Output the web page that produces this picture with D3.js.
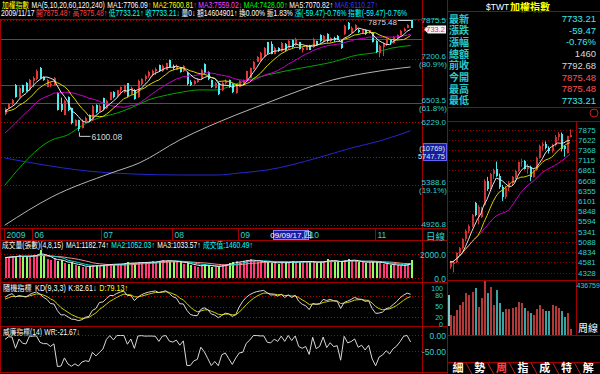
<!DOCTYPE html>
<html>
<head>
<meta charset="utf-8">
<script src="https://cdn.jsdelivr.net/npm/d3@7"></script>
<style>
  html, body { margin: 0; padding: 0; background: #000; }
  svg { display: block; }
  text { font-family: "Liberation Sans", "Noto Sans CJK TC", sans-serif; }
</style>
</head>
<body>
<script>
// ---------- daily data (May 18 2009 -> Nov 17 2009) ----------
const dayOpen = [6345,6430,6490,6780,6600,6780,6820,6700,6840,6880,7060,6910,6760,6800,6790,6660,6500,6340,6600,6430,6180,6260,6150,6250,6330,6260,6480,6390,6580,6430,6560,6680,6610,6700,6670,6810,6650,6710,6600,6800,6880,6920,6950,7000,7100,7000,7030,7180,7080,7030,7060,7000,6980,6830,6800,6830,6880,7120,6990,6860,6740,6820,6700,6810,6860,6800,6660,6760,6820,6870,6900,7040,7160,7180,7250,7480,7450,7290,7390,7330,7460,7380,7520,7430,7480,7360,7360,7430,7400,7500,7610,7500,7630,7510,7560,7600,7520,7620,7830,7650,7720,7700,7650,7700,7640,7650,7500,7300,7400,7430,7520,7470,7560,7610,7680,7740,7875.48];
const dayHigh = [6440,6510,6570,6800,6760,6790,6830,6880,6920,7030,7070,6920,6880,6830,6910,6670,6590,6560,6610,6440,6270,6265,6270,6310,6340,6480,6490,6490,6590,6560,6680,6690,6710,6760,6790,6815,6760,6720,6870,6890,6950,7010,7030,7060,7110,7110,7140,7190,7110,7110,7070,7100,6990,6860,6860,6890,7040,7130,7000,6870,6830,6830,6830,6870,6870,6810,6780,6860,6870,7010,7060,7170,7250,7320,7400,7490,7500,7410,7400,7490,7470,7520,7530,7560,7490,7400,7440,7440,7560,7510,7620,7610,7640,7570,7580,7610,7530,7790,7840,7760,7800,7720,7700,7710,7700,7660,7520,7440,7480,7550,7530,7590,7620,7700,7740,7800,7875.48];
const dayLow = [6330,6420,6480,6590,6590,6660,6680,6690,6750,6860,6880,6850,6750,6750,6780,6400,6380,6330,6390,6200,6170,6100.08,6140,6220,6230,6250,6360,6380,6400,6420,6550,6580,6600,6640,6660,6600,6640,6560,6590,6780,6840,6900,6920,6940,6990,6990,7020,7060,7020,7020,6980,6990,6780,6770,6790,6820,6870,6950,6860,6740,6730,6630,6690,6790,6740,6660,6650,6750,6800,6840,6890,7030,7150,7170,7230,7280,7280,7280,7320,7320,7330,7370,7390,7420,7360,7310,7350,7350,7390,7420,7480,7480,7480,7480,7490,7520,7370,7610,7700,7640,7700,7640,7640,7610,7630,7480,7300,7230,7250,7420,7440,7460,7540,7600,7670,7730,7733.21];
const dayClose = [6425,6500,6555,6605,6740,6680,6690,6860,6900,7010,6900,6870,6870,6805,6890,6410,6400,6540,6400,6220,6260,6130,6250,6290,6240,6470,6380,6470,6420,6540,6670,6600,6700,6750,6780,6620,6740,6570,6850,6880,6930,6990,7010,7040,7000,7090,7130,7070,7050,7090,6990,7080,6800,6790,6850,6870,7030,6970,6880,6760,6810,6650,6820,6850,6760,6670,6770,6850,6860,7000,7050,7160,7240,7300,7380,7300,7290,7390,7330,7470,7350,7510,7410,7540,7370,7390,7420,7360,7540,7440,7500,7600,7510,7560,7520,7530,7380,7770,7710,7740,7780,7660,7690,7620,7690,7490,7320,7420,7460,7540,7480,7577.65,7602.35,7682.10,7720.11,7792.68,7733.21];
const dayVolume = [1700,1750,1800,1850,1900,1750,1800,1850,1900,1950,2300,1800,1600,1500,1650,1400,1500,1250,1150,1300,1100,1000,950,900,1000,1050,1050,1000,1100,1150,1200,1100,1150,1200,1250,1300,1200,1250,1300,1350,1250,1300,1400,1350,1450,1500,1400,1450,1350,1400,1300,1200,1250,1100,1000,950,1050,1150,1000,950,900,1000,1100,1150,1250,1300,1400,1350,1450,1500,1600,1400,1300,1450,1350,1300,1250,1300,1200,1350,1250,1300,1400,1350,1300,1450,1350,1400,1300,1250,1350,1400,1550,1450,1400,1350,1300,1500,1600,1450,1400,1350,1300,1250,1350,1400,1300,1250,1200,1150,1100,1050,1100,1000,1050,1150,1460.49];
// closes before the first visible day, only used to start the moving averages
const priorClose = [5620,5580,5650,5700,5690,5760,5830,5900,5990,6020,6360,6420,6380,6290,6400,6330,6390,6420,6385];
const kdSeed = [70, 68];

// long moving averages (day index, value)
const ma60Idx = [0,15,20,25,30,36,41,46,52,57,62,68,73,78,84,95,105,113,118,124,130];
const ma60Val = [5394,5981,6049,6190,6290,6363,6451,6556,6631,6677,6708,6708,6785,6863,6942,7054,7152,7268,7301,7385,7428.00];
const ma120Idx = [0,15,34,43,56,74,84,95,105,116,127,130];
const ma120Val = [4921,5248,5544,5673,5981,6334,6511,6708,6863,6974,7054,7070.82];
const ma240Idx = [0,30,41,57,68,75,84,100,111,120,130];
const ma240Val = [5738,5557,5532,5519,5519,5544,5583,5738,5872,5966,6110.27];

const monthLabels = ["2009","06","07","08","09","10","11"];
const monthStartIdx = [0, 9, 31, 54, 75, 97, 119];
const cursorIdx = 87;
const cursorLabel = "09/09/17,四";

const priceTicks = [7875.5, 7200.6, 6503.5, 6229.0, 5388.6, 4926.8];
const priceTickPct = ["", "(80.9%)", "(61.8%)", "", "(19.1%)", ""];
const gridLevels = [7875.5, 7200.6, 6229.0, 5747.75, 5388.6, 4926.8];
const lineLevels = [7540, 6780, 6503.5];
const lastPrice = 7733.2;
const highMark = 7875.48, lowMark = 6100.08;

const volTicks = [2000, 0];
const kdTicks = [100, 80, 50, 20, 0];
const wrTicks = [0, -50];

// ---------- weekly data ----------
const wkOpen  = [4470,4540,4600,4800,4930,5150,5360,5480,6050,5700,5700,6000,6600,6400,6760,6900,6720,6450,6200,6420,6560,6690,6850,7060,7100,6900,6950,6700,6880,7180,7460,7520,7420,7350,7480,7700,7760,7460,7300,7690];
const wkHigh  = [4620,4620,4830,4960,5180,5400,5520,5780,6080,6000,5960,6640,6700,6800,6900,7080,6780,6500,6480,6600,6720,6880,7080,7150,7120,7020,6980,6900,7200,7500,7560,7580,7460,7520,7740,7810,7800,7480,7720,7875.48];
const wkLow   = [4420,4328,4560,4750,4900,5100,5300,5450,5720,5520,5680,5980,6350,6380,6650,6700,6400,6100,6150,6350,6480,6650,6820,6950,6880,6780,6600,6680,6850,7150,7350,7380,7280,7300,7450,7600,7330,7200,7280,7680];
const wkClose = [4590,4600,4800,4930,5150,5360,5480,5750,5760,5960,5940,6600,6400,6760,6880,6720,6450,6200,6420,6560,6690,6850,7060,7100,6900,6950,6700,6880,7180,7460,7520,7420,7350,7480,7700,7760,7380,7400,7720,7733.21];
const wkVolume = [161762,153674,202202,242643,269335,337274,323524,350215,377714,228893,296833,436759,337274,390655,242643,363964,256393,188453,207864,207864,215952,224040,269335,261246,215952,196541,180365,161762,207864,242643,207864,196541,194114,242643,234555,215952,194114,148012,175512,46102];
const wkTicks = [7875,7622,7368,7115,6861,6608,6355,6101,5848,5594,5341,5088,4834,4581,4328];

// quote table
const quoteNames = ["最新","漲跌","漲幅","總額","前收","今開","最高","最低"];
const quoteValues = ["7733.21","-59.47","-0.76%","1460","7792.68","7875.48","7875.48","7733.21"];
const quoteColors = ["#3ee8e8","#3ee8e8","#3ee8e8","#d8d8d8","#d8d8d8","#ff5050","#ff5050","#3ee8e8"];
const tabNames = ["細","勢","周","指","成","特","解"];

// ---------- set-up ----------
const W = 600, H = 374;
const RED = "#a00000", CYAN = "#2ed0d0";
const svg = d3.select("body").append("svg").attr("width", W).attr("height", H).style("background", "#000");

const N = dayClose.length;
const xDay = d3.scaleLinear().domain([0, 130]).range([5, 410.6]);
const step = 130 / (N - 1);
const xi = i => xDay(i * step);
const yPrice = d3.scaleLog().domain([4926.8, 7875.5]).range([224.5, 20]);
const yVol = d3.scaleLinear().domain([0, 2000]).range([278, 254]);
const yKD = d3.scaleLinear().domain([0, 100]).range([324.5, 288.5]);
const yWR = d3.scaleLinear().domain([-100, 0]).range([367, 335]);

function hline(y, x1, x2, col, dash) {
  svg.append("line").attr("x1", x1).attr("x2", x2).attr("y1", y).attr("y2", y)
    .attr("stroke", col).attr("stroke-dasharray", dash || null).attr("shape-rendering", "crispEdges");
}
function vline(x, y1, y2, col) {
  svg.append("line").attr("x1", x).attr("x2", x).attr("y1", y1).attr("y2", y2)
    .attr("stroke", col).attr("shape-rendering", "crispEdges");
}
function label(x, y, txt, col, size, anchor, family) {
  return svg.append("text").attr("x", x).attr("y", y).attr("fill", col)
    .attr("text-anchor", anchor || "start").style("font-size", size + "px")
    .style("font-family", family || null).text(txt);
}
// a row of coloured pieces, squeezed to fit between x0 and x1 like the bitmap font
function textRow(x0, x1, y, segs, size) {
  const g = svg.append("g");
  let x = 0;
  segs.forEach(s => {
    const t = g.append("text").attr("x", x).attr("y", 0).attr("fill", s[1])
      .style("font-size", size + "px").text(s[0]);
    x += t.node().getComputedTextLength() + (s[2] || 0);
  });
  g.attr("transform", `translate(${x0},${y}) scale(${(x1 - x0) / x},1)`);
}
function movAvg(arr, n, offset, count) {
  return d3.range(count).map(i => d3.mean(arr.slice(Math.max(0, i + offset - n + 1), i + offset + 1)));
}

// ---------- header ----------
textRow(2, 378, 8, [
  ["加權指數", "#ffff00", 3], ["MA(5,10,20,60,120,240)", "#ffffff", 3],
  ["MA1:7706.09", "#ffffff"], ["↑", "#ff3030", 2],
  ["MA2:7600.81", "#ffff00"], ["↑", "#ff3030", 2],
  ["MA3:7559.02", "#ff40ff"], ["↓", "#ff40ff", 2],
  ["MA4:7428.00", "#00ff00"], ["↑", "#00ff00", 2],
  ["MA5:7070.82", "#ffffff"], ["↑", "#ffffff", 2],
  ["MA6:6110.27", "#3838ff"], ["↑", "#3838ff"]
], 8.5);
textRow(1, 407, 16, [
  ["2009/11/17", "#ffffff", 2], ["開7875.48", "#ff4040"], ["↑", "#ff4040", 2],
  ["高7875.48", "#ff4040"], ["↑", "#ff4040", 2],
  ["低7733.21", "#00ffff"], ["↑", "#00ffff", 2],
  ["收7733.21", "#00ffff"], ["↓", "#00ffff", 2],
  ["量0", "#ffffff"], ["↓", "#ffffff", 2], ["額14604901", "#ffffff"], ["↑", "#ffffff", 2],
  ["換0.00%", "#ffffff", 2], ["振1.83%", "#ffffff", 2],
  ["漲(-59.47)-0.76%", "#00ffff", 2], ["指數(-59.47)-0.76%", "#00ffff"]
], 8.5);

// ---------- frames ----------
hline(19.5, 0, 448, RED);
hline(228.5, 0, 448, RED);
hline(240.5, 0, 448, RED);
hline(282.5, 0, 448, RED);
hline(326.5, 0, 448, RED);
hline(372.5, 0, 448, RED);
vline(0.5, 19, 373, RED);
vline(422.5, 0, 373, RED);
vline(447.5, 0, 374, RED);

// ---------- main price panel ----------
gridLevels.forEach(v => hline(Math.round(yPrice(v)) + 0.5, 1, 422, "#b00000", "1,2"));
lineLevels.forEach(v => hline(Math.round(yPrice(v)) + 0.5, 1, 422, "#c000c0"));

const lineGen = (xs, ys) => d3.line().x((d, i) => xs(i)).y(d => yPrice(d));
const allClose = priorClose.concat(dayClose);
const off = priorClose.length;
const ma5 = movAvg(allClose, 5, off, N), ma10 = movAvg(allClose, 10, off, N), ma20 = movAvg(allClose, 20, off, N);

function sparseLine(idx, vals, col) {
  svg.append("path").datum(vals)
    .attr("d", d3.line().x((d, i) => xDay(idx[i])).y(d => yPrice(d)).curve(d3.curveMonotoneX))
    .attr("fill", "none").attr("stroke", col).attr("stroke-width", 1);
}
sparseLine(ma240Idx, ma240Val, "#2626d0");
sparseLine(ma120Idx, ma120Val, "#b4b4b4");
sparseLine(ma60Idx, ma60Val, "#00a800");

// candles
const candles = svg.append("g").selectAll("g").data(d3.range(N)).join("g");
const cCol = i => dayClose[i] >= dayOpen[i] ? "#e03838" : "#46f0f0";
candles.append("line")
  .attr("x1", i => Math.round(xi(i)) + 0.5).attr("x2", i => Math.round(xi(i)) + 0.5)
  .attr("y1", i => yPrice(dayHigh[i])).attr("y2", i => yPrice(dayLow[i]))
  .attr("stroke", cCol);
candles.append("rect")
  .attr("x", i => Math.round(xi(i)) - 0.5).attr("width", 2)
  .attr("y", i => yPrice(Math.max(dayOpen[i], dayClose[i])))
  .attr("height", i => Math.max(1, yPrice(Math.min(dayOpen[i], dayClose[i])) - yPrice(Math.max(dayOpen[i], dayClose[i]))))
  .attr("fill", cCol).attr("shape-rendering", "crispEdges");

[[ma20, "#c800c8"], [ma10, "#d8d800"], [ma5, "#e8e8e8"]].forEach(([s, col]) => {
  svg.append("path").datum(s).attr("d", lineGen(xi)).attr("fill", "none").attr("stroke", col).attr("stroke-width", 1);
});

// high / low marks
const hiI = dayHigh.indexOf(highMark), loI = dayLow.indexOf(lowMark);
hline(Math.round(yPrice(highMark)) + 0.5, 398, Math.round(xi(hiI)), "#d0d0d0");
label(397, yPrice(highMark) + 5, highMark.toFixed(2), "#d8d8d8", 8, "end");
svg.append("polyline")
  .attr("points", `${xi(loI) + 1},${yPrice(lowMark) + 1} ${xi(loI) + 1},${yPrice(lowMark) + 5} ${xi(loI) + 12},${yPrice(lowMark) + 5}`)
  .attr("fill", "none").attr("stroke", "#d0d0d0");
label(xi(loI) + 13, yPrice(lowMark) + 8.5, lowMark.toFixed(2), "#d8d8d8", 8.5);

// price axis labels
priceTicks.forEach((v, i) => {
  const y = yPrice(v);
  const dy = priceTickPct[i] ? -3 : (i === priceTicks.length - 1 ? -1 : 0);
  label(446, y + dy + 3, v.toFixed(1), CYAN, 8, "end");
  if (priceTickPct[i]) label(447, y + 5 + 3, priceTickPct[i], CYAN, 8, "end");
});
// last price tag
const yLast = yPrice(lastPrice) + 1.5;
svg.append("path").attr("d", `M424,${yLast} L428,${yLast - 4} L446,${yLast - 4} L446,${yLast + 4} L428,${yLast + 4} Z`).attr("fill", "#f4f4f4");
label(445, yLast + 3, lastPrice.toFixed(1), "#ff2020", 7.5, "end");
// cursor value box
const yCur = yPrice(5747.75);
svg.append("rect").attr("x", 423).attr("y", yCur - 14).attr("width", 23).attr("height", 17)
  .attr("fill", "#1a1a9a").attr("stroke", "#6060ff").attr("shape-rendering", "crispEdges");
label(445, yCur - 6.5, "(10769)", "#c8f4f4", 7.5, "end");
label(445, yCur + 1.5, "5747.75", "#c8f4f4", 7.5, "end");

// ---------- date row ----------
monthLabels.forEach((m, i) => {
  const x = Math.round(xDay(monthStartIdx[i])) + 0.5;
  vline(x - 1, 229, 240, RED);
  label(x + 1, 238, m, CYAN, 8.5);
});
const xCur = xDay(cursorIdx);
svg.append("rect").attr("x", Math.round(xCur) - 2.5).attr("y", 230.5).attr("width", 35).attr("height", 9)
  .attr("fill", "#1c1ca0").attr("stroke", "#8080ff").attr("shape-rendering", "crispEdges");
label(Math.round(xCur) + 15, 238, cursorLabel, "#ffffff", 8, "middle");
label(426, 239.5, "日線", CYAN, 9.5, "start", "Noto Sans CJK TC");

// ---------- volume panel ----------
textRow(2, 253, 248, [
  ["成交量(張數)(4,8,15)", "#ffffff", 3], ["MA1:1182.74", "#ffffff"], ["↑", "#ffffff", 3],
  ["MA2:1052.03", "#00ffff"], ["↑", "#00ffff", 3], ["MA3:1033.57", "#ffffff"], ["↑", "#ffffff", 3],
  ["成交值:1460.49", "#00ffff"], ["↑", "#00ffff"]
], 8.5);
volTicks.forEach(v => {
  hline(Math.round(yVol(v)) + 0.5, 1, 422, "#b00000", "1,2");
  label(446, yVol(v) + 3.5, v.toFixed(1), CYAN, 8.5, "end");
});
svg.append("g").selectAll("rect").data(d3.range(N)).join("rect")
  .attr("x", i => Math.round(xi(i)) - 0.5).attr("width", 2)
  .attr("y", i => yVol(dayVolume[i])).attr("height", i => yVol(0) - yVol(dayVolume[i]))
  .attr("fill", i => dayClose[i] >= dayOpen[i] ? "#ff3878" : "#8cff5c")
  .attr("shape-rendering", "crispEdges");
const vol4 = movAvg(dayVolume, 4, 0, N), vol8 = movAvg(dayVolume, 8, 0, N), vol15 = movAvg(dayVolume, 15, 0, N);
[[vol15, "#ff8c8c"], [vol8, "#00e0e0"], [vol4, "#e8e8e8"]].forEach(([s, col]) => {
  svg.append("path").datum(s).attr("d", d3.line().x((d, i) => xi(i)).y(d => yVol(d)))
    .attr("fill", "none").attr("stroke", col).attr("stroke-width", 1);
});

// ---------- KD panel ----------
const kVals = [], dVals = [], wrVals = [];
let k = kdSeed[0], d = kdSeed[1];
for (let i = 0; i < N; i++) {
  const lo9 = d3.min(dayLow.slice(Math.max(0, i - 8), i + 1)), hi9 = d3.max(dayHigh.slice(Math.max(0, i - 8), i + 1));
  const rsv = (dayClose[i] - lo9) / (hi9 - lo9) * 100;
  k = k * 2 / 3 + rsv / 3; d = d * 2 / 3 + k / 3;
  kVals.push(k); dVals.push(d);
  const lo14 = d3.min(dayLow.slice(Math.max(0, i - 13), i + 1)), hi14 = d3.max(dayHigh.slice(Math.max(0, i - 13), i + 1));
  wrVals.push(-(hi14 - dayClose[i]) / (hi14 - lo14) * 100);
}
textRow(3, 128, 290.5, [
  ["隨機指標", "#ffffff", 4], ["KD(9,3,3)", "#ffffff", 3], ["K:82.61", "#ffffff"], ["↓", "#ffffff", 3],
  ["D:79.13", "#ffff00"], ["↑", "#ffff00"]
], 8.5);
[80, 50, 20].forEach(v => hline(Math.round(yKD(v)) + 0.5, 1, 422, "#b00000", "1,2"));
kdTicks.forEach(v => label(443, yKD(v) + 2.5, v, CYAN, 7, "end"));
[[dVals, "#d0d000"], [kVals, "#d8d8d8"]].forEach(([s, col]) => {
  svg.append("path").datum(s).attr("d", d3.line().x((d, i) => xi(i)).y(d => yKD(d)))
    .attr("fill", "none").attr("stroke", col).attr("stroke-width", 1);
});
svg.append("rect").attr("x", 448).attr("y", 295).attr("width", 2).attr("height", 31).attr("fill", "#7cc8c8");

// ---------- WR panel ----------
textRow(3, 80, 334.5, [["威廉指標(14)", "#ffffff", 3], ["WR:-21.67", "#ffffff"], ["↓", "#ffffff"]], 8.5);
wrTicks.forEach(v => {
  hline(Math.round(yWR(v)) + 0.5, 1, 422, "#b00000", "1,2");
  label(446, yWR(v) + 3.5, v.toFixed(2), CYAN, 8.5, "end");
});
svg.append("path").datum(wrVals).attr("d", d3.line().x((d, i) => xi(i)).y(d => yWR(d)))
  .attr("fill", "none").attr("stroke", "#d8d8d8").attr("stroke-width", 1);

// ---------- right panel: quote ----------
label(486, 9.5, "$TWT", "#ffffff", 8.5);
label(510, 10.5, "加權指數", "#ffff00", 10, "start", "Noto Sans CJK TC").style("font-weight", "bold");
hline(11.5, 448, 600, RED);
quoteNames.forEach((n, i) => {
  const y = 18.5 + i * 11.7;
  label(449, y + 4, n, "#2ec8c8", 10, "start", "Noto Sans CJK TC").style("font-weight", "bold");
  label(596, y + 3.5, quoteValues[i], quoteColors[i], 9.5, "end");
});
hline(107.5, 448, 600, RED);
svg.append("circle").attr("cx", 594).attr("cy", 113).attr("r", 4).attr("fill", "none").attr("stroke", "#c02020");

// ---------- right panel: weekly chart ----------
const xWk = d3.scaleLinear().domain([0, wkClose.length - 1]).range([450, 570]);
const yWk = d3.scaleLinear().domain([4328, 7875]).range([272.5, 129.5]);
const yWkVol = d3.scaleLinear().domain([0, 436759]).range([335, 281]);
hline(121.5, 448, 600, RED);
hline(280.5, 448, 600, RED);
hline(335.5, 448, 600, RED);
vline(576.5, 121, 336, RED);
wkTicks.forEach(v => {
  hline(Math.round(yWk(v)) + 0.5, 449, 576, "#900000", "1,2");
  label(578, yWk(v) + 3, v, CYAN, 8);
});
const wCol = i => wkClose[i] >= wkOpen[i] ? "#c83434" : "#50e4e4";
const wk = svg.append("g").selectAll("g").data(d3.range(wkClose.length)).join("g");
wk.append("line")
  .attr("x1", i => Math.round(xWk(i)) + 0.5).attr("x2", i => Math.round(xWk(i)) + 0.5)
  .attr("y1", i => yWk(wkHigh[i])).attr("y2", i => yWk(wkLow[i])).attr("stroke", wCol);
wk.append("rect")
  .attr("x", i => Math.round(xWk(i)) - 0.5).attr("width", 2)
  .attr("y", i => yWk(Math.max(wkOpen[i], wkClose[i])))
  .attr("height", i => Math.max(1, yWk(Math.min(wkOpen[i], wkClose[i])) - yWk(Math.max(wkOpen[i], wkClose[i]))))
  .attr("fill", wCol).attr("shape-rendering", "crispEdges");
const nW = wkClose.length;
[[movAvg(wkClose, 20, 0, nW), "#c800c8"], [movAvg(wkClose, 10, 0, nW), "#d0d000"], [movAvg(wkClose, 5, 0, nW), "#e0e0e0"]].forEach(([s, col]) => {
  svg.append("path").datum(s).attr("d", d3.line().x((d, i) => xWk(i)).y(d => yWk(d)))
    .attr("fill", "none").attr("stroke", col).attr("stroke-width", 1);
});
svg.append("g").selectAll("rect").data(d3.range(nW)).join("rect")
  .attr("x", i => Math.round(xWk(i)) - 0.5).attr("width", 2)
  .attr("y", i => yWkVol(wkVolume[i])).attr("height", i => yWkVol(0) - yWkVol(wkVolume[i]))
  .attr("fill", i => wkClose[i] >= wkOpen[i] ? "#b43838" : "#38a4a4")
  .attr("shape-rendering", "crispEdges");
label(576.5, 288, "436759", CYAN, 7);
label(578, 332, "周線", "#ffffff", 10, "start", "Noto Sans CJK TC");

// ---------- tabs ----------
hline(362.5, 448, 600, RED);
tabNames.forEach((t, i) => {
  const cx = 458 + i * 21.7;
  label(cx, 372, t, t === "周" ? "#ff4040" : "#ffffff", 11, "middle", "Noto Sans CJK TC").style("font-weight", "bold");
  if (i < tabNames.length - 1) {
    svg.append("line").attr("x1", cx + 8).attr("y1", 363).attr("x2", cx + 14).attr("y2", 374).attr("stroke", "#c02020");
  }
});
</script>
</body>
</html>
